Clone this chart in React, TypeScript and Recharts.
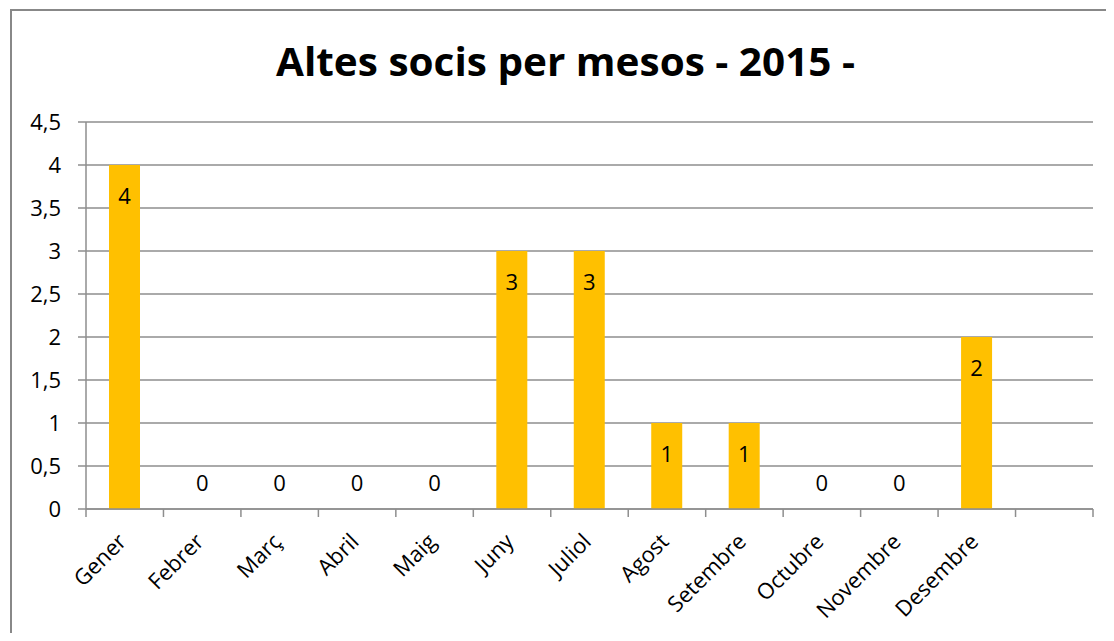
import React from "react";
import { ComposedChart, Bar, Line, XAxis, YAxis, CartesianGrid, LabelList } from "recharts";

const months = ["Gener", "Febrer", "Març", "Abril", "Maig", "Juny", "Juliol", "Agost", "Setembre", "Octubre", "Novembre", "Desembre", ""];
const altes: (number | null)[] = [4, 0, 0, 0, 0, 3, 3, 1, 1, 0, 0, 2, null];
const yTicks = [0, 0.5, 1, 1.5, 2, 2.5, 3, 3.5, 4, 4.5];
const title = "Altes socis per mesos - 2015 -";

const data = months.map((m, i) => ({ mes: m, altes: altes[i] }));

const W = 1098;
const H = 625;
const MARGIN = { top: 114, right: 13, left: 0, bottom: 64 };
const YW = 78;
const XH = 60;
const BAND = (W - MARGIN.right - YW - MARGIN.left) / months.length;
const FONT = "'Open Sans', sans-serif";
const FS = 22;
const GRID = "#8e8e8e";

const fmt = (v: number) => String(v).replace(".", ",");

const XTick = (props: any) => {
  const { x, y, payload, index } = props;
  const half = BAND / 2;
  const px = x + 3;
  const py = y + 26;
  return (
    <g>
      <line x1={x - half} x2={x - half} y1={y - 8} y2={y} stroke={GRID} strokeWidth={1.5} />
      {index === months.length - 1 && (
        <line x1={x + half} x2={x + half} y1={y - 8} y2={y} stroke={GRID} strokeWidth={1.5} />
      )}
      {payload.value ? (
        <text
          x={px}
          y={py}
          textAnchor="end"
          fontFamily={FONT}
          fontSize={FS}
          fill="#000"
          transform={`rotate(-45, ${px}, ${py})`}
        >
          {payload.value}
        </text>
      ) : null}
    </g>
  );
};

const BarLabel = (props: any) => {
  const { x, y, width, value } = props;
  if (value === null || value === undefined || value === 0) return null;
  return (
    <text
      x={x + width / 2}
      y={y + 30}
      textAnchor="middle"
      dominantBaseline="central"
      fontFamily={FONT}
      fontSize={FS}
      fill="#000"
    >
      {value}
    </text>
  );
};

const ZeroLabel = (props: any) => {
  const { x, y, value } = props;
  if (value !== 0) return null;
  return (
    <text
      x={x}
      y={y - 27}
      textAnchor="middle"
      dominantBaseline="central"
      fontFamily={FONT}
      fontSize={FS}
      fill="#000"
    >
      {value}
    </text>
  );
};

export default function App() {
  return (
    <div style={{ position: "relative", width: W, height: H, overflow: "hidden", background: "#fff" }}>
      <div
        style={{
          position: "absolute",
          left: 2,
          top: 1,
          width: 1400,
          height: 1000,
          border: "2px solid #888",
          boxSizing: "border-box",
        }}
      />
      <svg style={{ position: "absolute", left: 0, top: 0 }} width={W} height={100}>
        <text
          x={557.5}
          y={68}
          textAnchor="middle"
          fontFamily={FONT}
          fontWeight={700}
          fontSize={40}
          textLength={579}
          lengthAdjust="spacingAndGlyphs"
          fill="#000"
        >
          {title}
        </text>
      </svg>
      <div style={{ position: "absolute", left: 0, top: 0 }}>
        <ComposedChart width={W} height={H} data={data} margin={MARGIN}>
          <CartesianGrid vertical={false} stroke={GRID} strokeWidth={1.5} />
          <XAxis
            dataKey="mes"
            interval={0}
            height={XH}
            axisLine={{ stroke: GRID, strokeWidth: 1.5 }}
            tickLine={false}
            tickSize={8}
            tickMargin={0}
            tick={<XTick />}
          />
          <YAxis
            width={YW}
            domain={[0, 4.5]}
            ticks={yTicks}
            interval={0}
            tickFormatter={fmt}
            axisLine={{ stroke: GRID, strokeWidth: 1.5 }}
            tickLine={{ stroke: GRID, strokeWidth: 1.5 }}
            tickSize={8}
            tickMargin={17}
            tick={{ fontFamily: FONT, fontSize: FS, fill: "#000" }}
          />
          <Bar dataKey="altes" fill="#FFC000" barSize={31} isAnimationActive={false}>
            <LabelList dataKey="altes" content={<BarLabel />} />
          </Bar>
          <Line
            dataKey="altes"
            stroke="none"
            dot={false}
            activeDot={false}
            legendType="none"
            isAnimationActive={false}
          >
            <LabelList dataKey="altes" content={<ZeroLabel />} />
          </Line>
        </ComposedChart>
      </div>
    </div>
  );
}
